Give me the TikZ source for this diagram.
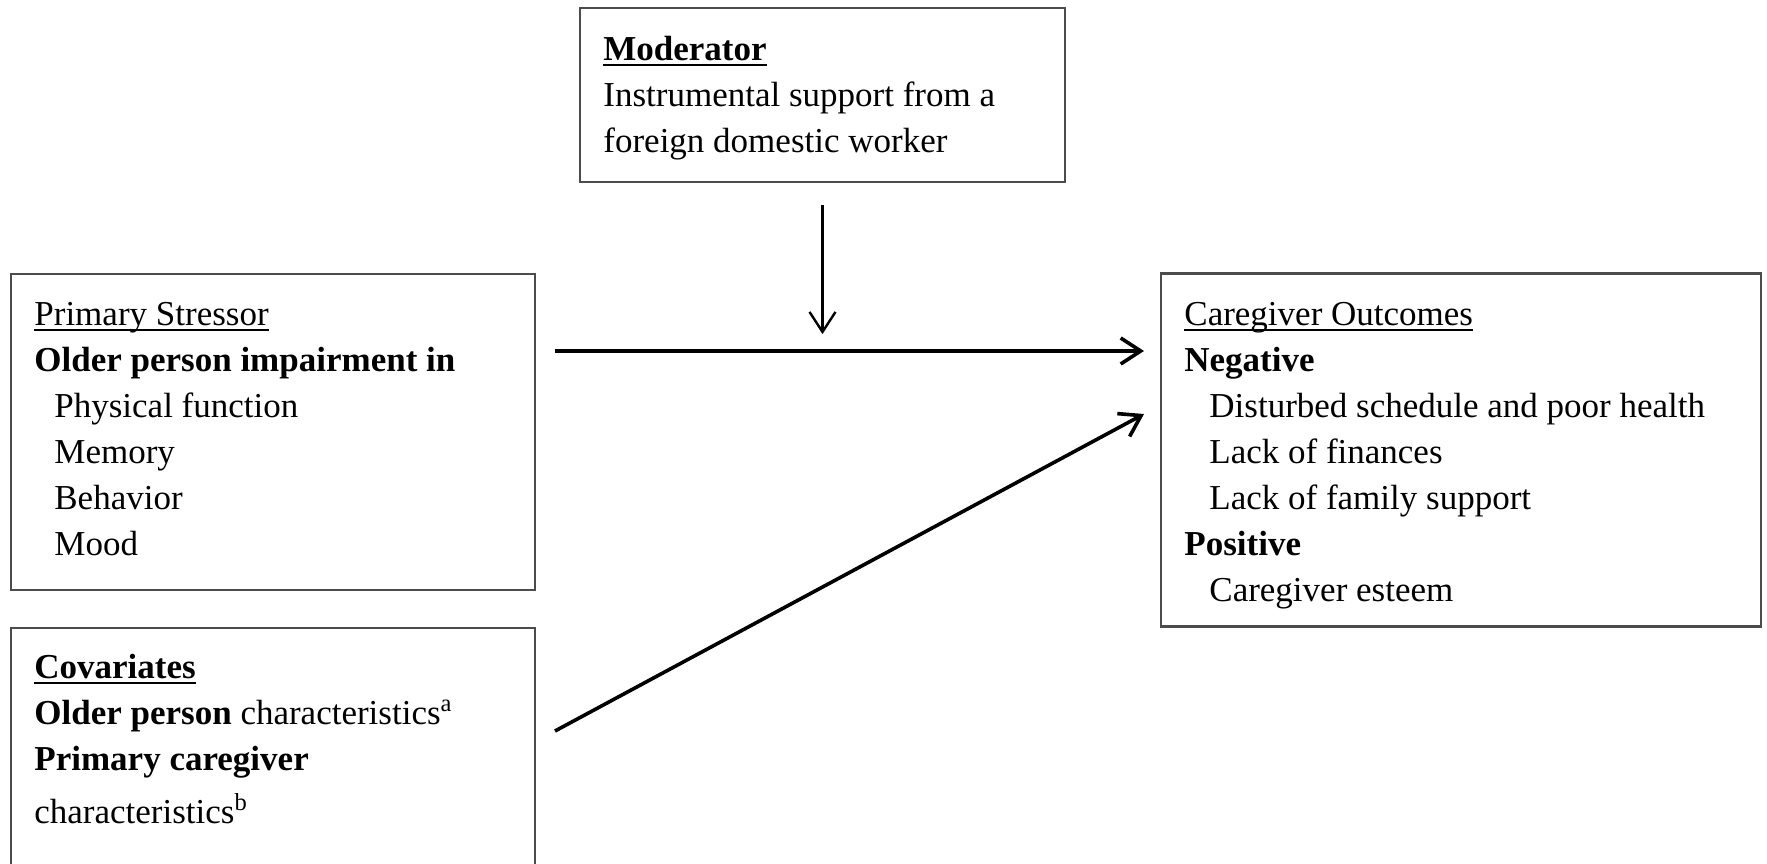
\documentclass[tikz,border=0pt]{standalone}
\usepackage{fontspec}
\setmainfont{Liberation Serif}
\usetikzlibrary{arrows.meta}
\newlength\hulw
\newcommand{\hul}[1]{\settowidth{\hulw}{#1}\rlap{\rule[-3pt]{\hulw}{1pt}}#1}
\begin{document}
\begin{tikzpicture}[x=0.5pt,y=-0.5pt,
  box/.style={draw=black!70, line width=1.1pt, inner sep=0, fill=none},
  txt/.style={anchor=base west, inner sep=0, font=\fontsize{17.5}{23}\selectfont},
  arr/.style={-{Straight Barb[length=10pt,width=13pt]}, line width=1.8pt}]
\useasboundingbox (0,0) rectangle (1767,863);
\fill[white] (0,0) rectangle (1767,863);
\clip (0,0) rectangle (1767,863);
% boxes
\node[box, minimum width=242.5pt, minimum height=87pt] (mod) at (822.5,95) {};
\node[box, minimum width=262pt, minimum height=158pt] (stress) at (273,432) {};
\node[box, minimum width=262pt, minimum height=140pt] (cov) at (273,768) {};
\node[box, minimum width=300pt, minimum height=176.5pt] (out) at (1461,450) {};
% texts
\node[txt] (modt) at (603,60) {\begin{tabular}[t]{@{}l@{}}\hul{\textbf{Moderator}}\\ Instrumental support from a\\ foreign domestic worker\end{tabular}};
\node[txt] (stresst) at (34,325) {\begin{tabular}[t]{@{}l@{}}\hul{Primary Stressor}\\ \textbf{Older person impairment in}\\ \hspace*{10pt}Physical function\\ \hspace*{10pt}Memory\\ \hspace*{10pt}Behavior\\ \hspace*{10pt}Mood\end{tabular}};
\node[txt] (covt) at (34,678) {\begin{tabular}[t]{@{}l@{}}\hul{\textbf{Covariates}}\\ \textbf{Older person} characteristics\textsuperscript{a}\\ \textbf{Primary caregiver}\\[3.5pt] characteristics\textsuperscript{b}\end{tabular}};
\node[txt] (outt) at (1184,325) {\begin{tabular}[t]{@{}l@{}}\hul{Caregiver Outcomes}\\ \textbf{Negative}\\ \hspace*{12.5pt}Disturbed schedule and poor health\\ \hspace*{12.5pt}Lack of finances\\ \hspace*{12.5pt}Lack of family support\\ \textbf{Positive}\\ \hspace*{12.5pt}Caregiver esteem\end{tabular}};
% connectors
\coordinate (h1) at (555,351);
\coordinate (h2) at (1144,351);
\coordinate (d1) at (555,731);
\coordinate (d2) at (1144,414);
\draw[arr] (h1) -- (h2);
\draw[arr] (d1) -- (d2);
\draw[arr, line width=1.2pt] ([yshift=-11pt]mod.south) -- ([yshift=-75.5pt]mod.south);
\end{tikzpicture}
\end{document}
